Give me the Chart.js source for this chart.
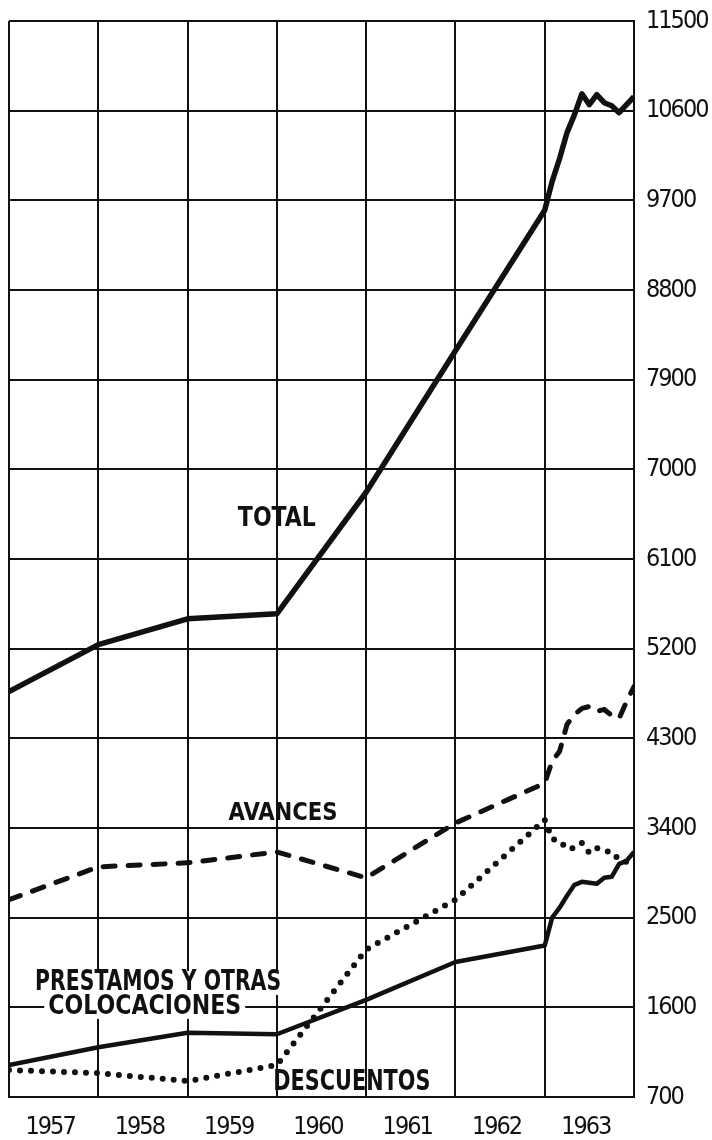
<!DOCTYPE html>
<html>
<head>
<meta charset="utf-8">
<script src="https://cdn.jsdelivr.net/npm/chart.js@4.4.1/dist/chart.umd.min.js"></script>
<style>
    html, body { margin: 0; padding: 0; background: #fff; }
    canvas { display: block; }
</style>
</head>
<body>
<canvas id="chart" width="712" height="1140"></canvas>
<script>
// --- DATA ---
const years = ['1957', '1958', '1959', '1960', '1961', '1962', '1963'];
// year-end values plotted at the start of each year cell
const annualX = [1957, 1958, 1959, 1960, 1961, 1962, 1963];
// monthly points inside 1963
const months1963 = [1, 2, 3, 4, 5, 6, 7, 8, 9, 10, 11, 12];
const yTicks = [700, 1600, 2500, 3400, 4300, 5200, 6100, 7000, 7900, 8800, 9700, 10600, 11500];

const totalAnnual = [4770, 5240, 5500, 5550, 6770, 8190, 9600];
const total1963 = [9890, 10120, 10380, 10560, 10770, 10660, 10760, 10680, 10650, 10580, 10660, 10740];

const avancesAnnual = [2680, 3010, 3050, 3160, 2900, 3450, 3850];
const avances1963 = [4070, 4170, 4440, 4540, 4600, 4620, 4570, 4590, 4530, 4500, 4670, 4820];

const descuentosAnnual = [970, 940, 860, 1020, 2180, 2680, 3480];
const descuentos1963 = [3290, 3270, 3190, 3200, 3250, 3150, 3200, 3170, 3160, 3080, 3060, 3120];

const prestamosAnnual = [1020, 1200, 1345, 1330, 1675, 2055, 2220];
const prestamos1963 = [2500, 2600, 2720, 2830, 2860, 2850, 2840, 2900, 2910, 3040, 3070, 3160];

const INK = '#111';
const FONT = '"DejaVu Sans Condensed", "DejaVu Sans", sans-serif';

// Axis text: tall condensed digits, squeezed with a little negative letter spacing
const measureCtx = document.createElement('canvas').getContext('2d');
const HAS_SPACING = 'letterSpacing' in measureCtx;
const SPACING = HAS_SPACING ? '-2px' : '0px';
const axisSize = (() => {
    measureCtx.font = `25px ${FONT}`;
    if (HAS_SPACING) measureCtx.letterSpacing = SPACING;
    const w = measureCtx.measureText('11500').width;
    return Math.min(25, 25 * 63 / w);
})();

// Utility: build {x, y} points from annual + monthly arrays
const buildSeries = (annual, monthly) => {
    const pts = annualX.map((x, i) => ({ x: x, y: annual[i] }));
    months1963.forEach((m, i) => pts.push({ x: 1963 + m / 12, y: monthly[i] }));
    return pts;
};

// Series names written inside the plot (x in years, y in values, w = wanted width)
const seriesLabels = [
    { text: 'TOTAL', x: 1960.0, y: 6500, size: 27, w: 78, box: false },
    { text: 'AVANCES', x: 1960.07, y: 3543, size: 25, w: 109, box: false },
    { text: 'PRESTAMOS Y OTRAS', x: 1958.67, y: 1845, size: 28, w: 246, box: true },
    { text: 'COLOCACIONES', x: 1958.52, y: 1604, size: 27, w: 193, box: true },
    { text: 'DESCUENTOS', x: 1960.84, y: 841, size: 28, w: 157, box: false }
];

const spacingPlugin = {
    id: 'axisSpacing',
    beforeDraw(chart) { if (HAS_SPACING) chart.ctx.letterSpacing = SPACING; },
    afterDraw(chart) { if (HAS_SPACING) chart.ctx.letterSpacing = '0px'; }
};

const labelPlugin = {
    id: 'seriesLabels',
    beforeDatasetsDraw(chart) {
        const { ctx, scales: { x, y } } = chart;
        seriesLabels.forEach(l => {
            ctx.save();
            if (HAS_SPACING) ctx.letterSpacing = '0px';
            ctx.font = `bold ${l.size}px ${FONT}`;
            ctx.textAlign = 'center';
            ctx.textBaseline = 'middle';
            const px = x.getPixelForValue(l.x);
            const py = y.getPixelForValue(l.y);
            const sx = Math.min(1, l.w / ctx.measureText(l.text).width);
            if (l.box) {
                ctx.fillStyle = '#fff';
                ctx.fillRect(px - l.w / 2 - 4, py - 12, l.w + 8, 24);
            }
            ctx.translate(px, py);
            ctx.scale(sx, 1);
            ctx.fillStyle = INK;
            ctx.fillText(l.text, 0, 0);
            ctx.restore();
        });
    }
};

new Chart(document.getElementById('chart'), {
    type: 'line',
    data: {
        datasets: [
            {
                label: 'TOTAL',
                data: buildSeries(totalAnnual, total1963),
                borderColor: INK,
                borderWidth: 5.5,
                borderJoinStyle: 'round',
                pointRadius: 0,
                tension: 0
            },
            {
                label: 'AVANCES',
                data: buildSeries(avancesAnnual, avances1963),
                borderColor: INK,
                borderWidth: 5,
                borderDash: [12, 13],
                borderCapStyle: 'round',
                pointRadius: 0,
                tension: 0
            },
            {
                label: 'PRESTAMOS Y OTRAS COLOCACIONES',
                data: buildSeries(prestamosAnnual, prestamos1963),
                borderColor: INK,
                borderWidth: 4.5,
                borderJoinStyle: 'round',
                pointRadius: 0,
                tension: 0
            },
            {
                label: 'DESCUENTOS',
                data: buildSeries(descuentosAnnual, descuentos1963),
                borderColor: INK,
                borderWidth: 6,
                borderDash: [0, 11],
                borderCapStyle: 'round',
                pointRadius: 0,
                tension: 0
            }
        ]
    },
    options: {
        responsive: false,
        devicePixelRatio: 1,
        animation: false,
        layout: { padding: { left: 9, top: 21, right: 0, bottom: 0 } },
        plugins: {
            legend: { display: false },
            tooltip: { enabled: false }
        },
        scales: {
            x: {
                type: 'linear',
                position: 'bottom',
                min: 1957,
                max: 1964,
                afterBuildTicks: (scale) => {
                    const t = [];
                    annualX.forEach(v => {
                        t.push({ value: v });
                        t.push({ value: v + 0.46 });
                    });
                    t.push({ value: 1964 });
                    scale.ticks = t;
                },
                afterFit: (scale) => {
                    scale.height = 43;
                    scale.paddingLeft = 0;
                    scale.paddingRight = 0;
                },
                border: { display: true, color: INK, width: 2 },
                grid: {
                    drawTicks: false,
                    lineWidth: 2,
                    color: (c) => (c.tick && Number.isInteger(c.tick.value)) ? INK : 'rgba(0,0,0,0)'
                },
                ticks: {
                    autoSkip: false,
                    maxRotation: 0,
                    padding: 15,
                    color: INK,
                    font: { family: FONT, size: axisSize },
                    callback: (v) => Number.isInteger(v) ? '' : years[Math.floor(v) - 1957]
                }
            },
            y: {
                type: 'linear',
                position: 'right',
                min: 700,
                max: 11500,
                afterBuildTicks: (scale) => {
                    scale.ticks = yTicks.map(v => ({ value: v }));
                },
                afterFit: (scale) => {
                    scale.width = 78;
                    scale.paddingTop = 0;
                    scale.paddingBottom = 0;
                },
                border: { display: true, color: INK, width: 2 },
                grid: { drawTicks: false, lineWidth: 2, color: INK },
                ticks: {
                    padding: 12,
                    color: INK,
                    font: { family: FONT, size: axisSize },
                    callback: (v) => String(v)
                }
            }
        }
    },
    plugins: [spacingPlugin, labelPlugin]
});
</script>
</body>
</html>
